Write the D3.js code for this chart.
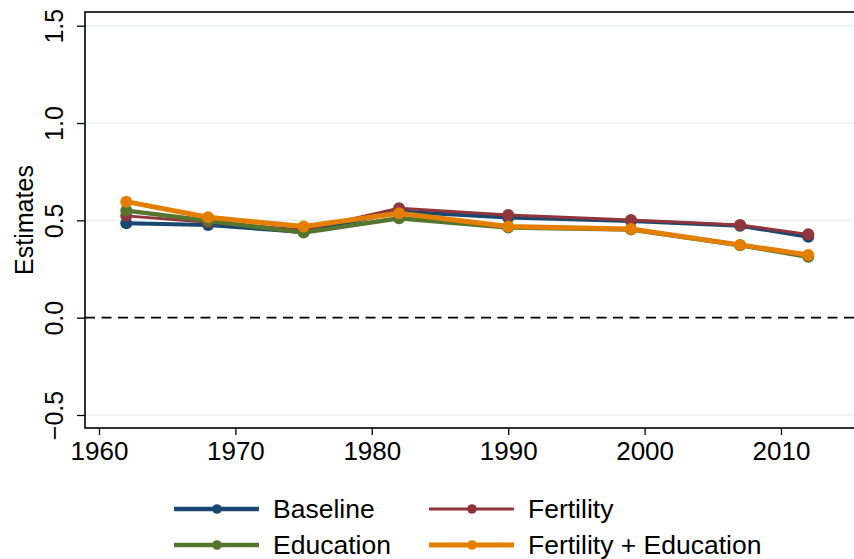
<!DOCTYPE html>
<html>
<head>
<meta charset="utf-8">
<script src="https://cdn.jsdelivr.net/npm/d3@7"></script>
<style>
  body { margin: 0; background: #fff; }
  svg { display: block; font-family: "Liberation Sans", Arial, sans-serif; }
</style>
</head>
<body>
<div id="chart"></div>
<script>
// data
const years = [1962, 1968, 1975, 1982, 1990, 1999, 2007, 2012];
const baseline  = [0.485, 0.476, 0.440, 0.545, 0.515, 0.497, 0.472, 0.416];
const fertility = [0.523, 0.490, 0.450, 0.562, 0.528, 0.502, 0.476, 0.428];
const education = [0.550, 0.498, 0.437, 0.511, 0.463, 0.453, 0.372, 0.313];
const fertEdu   = [0.596, 0.516, 0.468, 0.536, 0.468, 0.456, 0.374, 0.322];
const xTicks = [1960, 1970, 1980, 1990, 2000, 2010];
const yTicks = [-0.5, 0.0, 0.5, 1.0, 1.5];

const series = [
  {name: "Baseline", values: baseline, color: "#1a476f", width: 4, legendWidth: 4.5},
  {name: "Fertility", values: fertility, color: "#90353b", width: 3, legendWidth: 3},
  {name: "Education", values: education, color: "#55752f", width: 4.5, legendWidth: 4.5},
  {name: "Fertility + Education", values: fertEdu, color: "#e37e00", width: 5, legendWidth: 5}
];

const width = 854, height = 559;
const frame = {left: 85, top: 12, bottom: 428, right: 870};

const svg = d3.select("#chart").append("svg")
    .attr("width", width)
    .attr("height", height);

const x = d3.scaleLinear().domain([1960, 2010]).range([99, 781]);
const y = d3.scaleLinear().domain([-0.5, 1.5]).range([415, 25.7]);

// grid
svg.append("g")
  .selectAll("line")
  .data(yTicks.filter(d => d !== 0))
  .join("line")
    .attr("x1", frame.left).attr("x2", frame.right)
    .attr("y1", d => y(d)).attr("y2", d => y(d))
    .attr("stroke", "#eaf0f2")
    .attr("stroke-width", 1.6);

// zero line
svg.append("line")
    .attr("x1", frame.left).attr("x2", frame.right)
    .attr("y1", y(0)).attr("y2", y(0))
    .attr("stroke", "#000")
    .attr("stroke-width", 1.8)
    .attr("stroke-dasharray", "10,6.5");

// frame
svg.append("rect")
    .attr("x", frame.left).attr("y", frame.top)
    .attr("width", frame.right - frame.left)
    .attr("height", frame.bottom - frame.top)
    .attr("fill", "none")
    .attr("stroke", "#000")
    .attr("stroke-width", 1.6);

// axes
const xAxis = d3.axisBottom(x).tickValues(xTicks).tickFormat(d3.format("d")).tickSize(7).tickPadding(7);
svg.append("g")
    .attr("transform", `translate(0,${frame.bottom})`)
    .call(xAxis)
    .call(g => g.select(".domain").remove())
    .call(g => g.selectAll(".tick line").attr("stroke-width", 1.3))
    .call(g => g.selectAll(".tick text")
        .attr("font-size", 26)
        .attr("font-family", "Liberation Sans, Arial, sans-serif")
        .attr("fill", "#000"));

const yAxis = d3.axisLeft(y).tickValues(yTicks).tickFormat(d => d < 0 ? "\u2212" + d3.format(".1f")(-d) : d3.format(".1f")(d)).tickSize(8).tickPadding(0);
svg.append("g")
    .attr("transform", `translate(${frame.left},0)`)
    .call(yAxis)
    .call(g => g.select(".domain").remove())
    .call(g => g.selectAll(".tick line").attr("stroke-width", 1.3))
    .call(g => g.selectAll(".tick text")
        .attr("x", null).attr("dy", null)
        .attr("transform", "translate(-22,0) rotate(-90)")
        .attr("text-anchor", "middle")
        .attr("font-size", 25)
        .attr("font-family", "Liberation Sans, Arial, sans-serif")
        .attr("fill", "#000"));

svg.append("text")
    .attr("transform", `translate(33,${(frame.top + frame.bottom) / 2}) rotate(-90)`)
    .attr("text-anchor", "middle")
    .attr("font-size", 25)
    .text("Estimates");

// lines + markers
const line = d3.line()
    .x((d, i) => x(years[i]))
    .y(d => y(d));

series.forEach(s => {
  const g = svg.append("g");
  g.append("path")
      .attr("d", line(s.values))
      .attr("fill", "none")
      .attr("stroke", s.color)
      .attr("stroke-width", s.width)
      .attr("stroke-linejoin", "round");
  g.selectAll("circle")
    .data(s.values)
    .join("circle")
      .attr("cx", (d, i) => x(years[i]))
      .attr("cy", d => y(d))
      .attr("r", 6)
      .attr("fill", s.color);
});

// legend
const legendCols = [174, 429];
const legendRows = [509, 545];
const legend = svg.append("g")
  .selectAll("g")
  .data(series)
  .join("g")
    .attr("transform", (d, i) => `translate(${legendCols[i % 2]},${legendRows[Math.floor(i / 2)]})`);

legend.append("line")
    .attr("x1", 0).attr("x2", 85)
    .attr("stroke", d => d.color)
    .attr("stroke-width", d => d.legendWidth);
legend.append("circle")
    .attr("cx", 43).attr("r", 4.8)
    .attr("fill", d => d.color);
legend.append("text")
    .attr("x", 99)
    .attr("dy", "0.35em")
    .attr("font-size", 26.5)
    .text(d => d.name);
</script>
</body>
</html>
